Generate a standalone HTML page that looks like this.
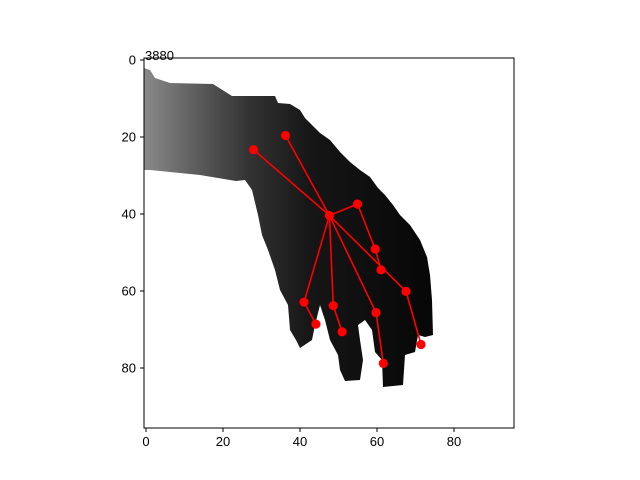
<!DOCTYPE html>
<html><head><meta charset="utf-8"><style>body{margin:0;background:#fff}svg{display:block;font-family:"Liberation Sans","DejaVu Sans",sans-serif}</style></head>
<body>
<svg id="c" width="640" height="480">
<defs><linearGradient id="g" x1="144" y1="0" x2="420" y2="0" gradientUnits="userSpaceOnUse">
<stop offset="0" stop-color="#8a8a8a"/><stop offset="0.2" stop-color="#5a5a5a"/><stop offset="0.38" stop-color="#333"/><stop offset="0.6" stop-color="#161616"/><stop offset="1" stop-color="#080808"/></linearGradient></defs>
<rect x="144" y="58" width="370" height="370" fill="#fff"/>
<polygon fill="url(#g)" points="144,68 150,70 155,78 170,83 213,84 232,96 275,96 278,103 290,104 300,110 305,118 312,125 320,133 330,140 340,152 350,162 360,170 370,177 378,188 385,195 393,205 400,215 410,225 420,240 427,257 430,275 432,300 433,335 425,337 418,335 415,352 405,355 403,385 383,387 382,360 375,352 372,330 365,320 358,325 360,340 363,360 360,380 345,381 340,370 338,355 330,340 325,320 320,305 315,325 312,340 300,348 296,340 290,330 288,305 280,290 275,270 268,250 262,235 258,215 252,190 245,180 236,181 200,175 170,172 150,170 144,170"/>
<g id="sk"></g>
<rect x="144" y="58" width="370" height="370" fill="none" stroke="#000" stroke-width="1"/>
<text x="145" y="60" font-size="13">3880</text>
<g id="ax"></g>
</svg>
<script>
const kpX=[47.9,28.2,36.5,55.2,59.8,61.3,67.8,71.7,60.0,61.9,48.9,51.2,41.3,44.4];
const kpY=[40.4,23.3,19.6,37.4,49.1,54.5,60.1,73.9,65.6,78.8,63.8,70.6,62.9,68.6];
const edges=[[0,1],[0,2],[0,3],[3,4],[4,5],[0,6],[6,7],[0,8],[8,9],[0,10],[10,11],[0,12],[12,13]];
const xTicks=[0,20,40,60,80];
const yTicks=[0,20,40,60,80];
const X=v=>146+3.85*v, Y=v=>60+3.85*v;
const PX=v=>145+3.85*v;
const NS='http://www.w3.org/2000/svg';
const sk=document.getElementById('sk'), ax=document.getElementById('ax');
function mk(t,a,p){const e=document.createElementNS(NS,t);for(const k in a)e.setAttribute(k,a[k]);p.appendChild(e);return e;}
edges.forEach(([a,b])=>{const l=mk('line',{x1:PX(kpX[a]),y1:Y(kpY[a]),x2:PX(kpX[b]),y2:Y(kpY[b]),stroke:'#f00','stroke-width':1.6},sk);

});
kpX.forEach((v,i)=>{const c=mk('circle',{cx:PX(v),cy:Y(kpY[i]),r:4.6,fill:'#f00'},sk);

});
xTicks.forEach(t=>{mk('line',{x1:X(t),x2:X(t),y1:428,y2:432,stroke:'#000'},ax);
const s=mk('text',{x:X(t),y:446,'font-size':13,'text-anchor':'middle'},ax);s.textContent=t;

});
yTicks.forEach(t=>{mk('line',{x1:140,x2:144,y1:Y(t),y2:Y(t),stroke:'#000'},ax);
const s=mk('text',{x:136,y:Y(t)+4.5,'font-size':13,'text-anchor':'end'},ax);s.textContent=t;

});
</script>
</body></html>
